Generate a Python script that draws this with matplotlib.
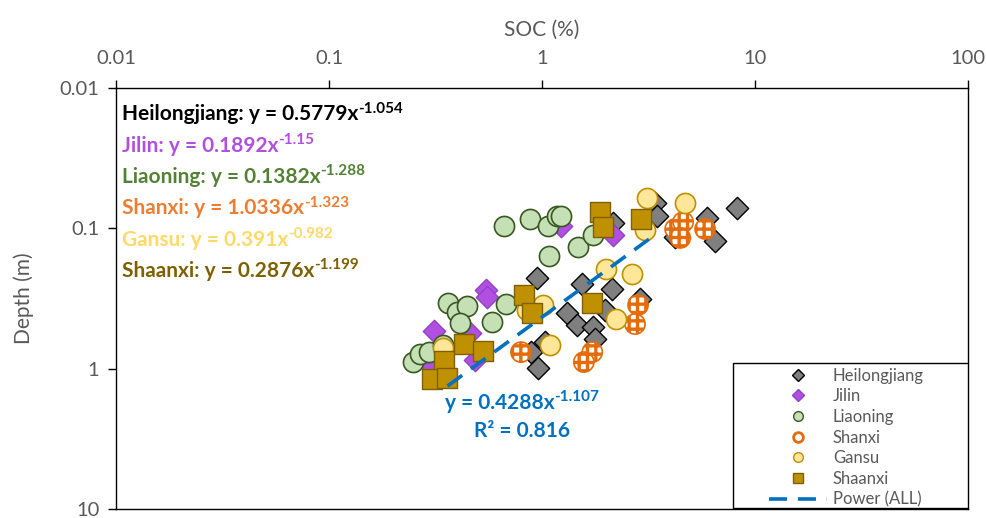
import numpy as np
import matplotlib
matplotlib.use('Agg')
import matplotlib.pyplot as plt
from matplotlib.lines import Line2D
from matplotlib.patches import Rectangle

plt.rcParams['font.family'] = ['Lato', 'DejaVu Sans']
plt.rcParams['hatch.linewidth'] = 2.4

# SOC (%) and depth (m)
heilongjiang_soc = [0.948, 1.54, 2.13, 1.31, 1.46, 1.73, 1.98, 1.77, 2.88, 1.03,
                    0.887, 0.957, 2.15, 3.40, 3.47, 4.21, 5.96, 6.49, 8.23]
heilongjiang_depth = [0.226, 0.249, 0.271, 0.402, 0.489, 0.505, 0.382, 0.615, 0.319, 0.645,
                      0.762, 0.991, 0.0916, 0.0661, 0.0817, 0.115, 0.0845, 0.123, 0.0716]

jilin_soc = [0.546, 0.552, 0.311, 0.459, 0.484, 0.298, 1.22, 2.15]
jilin_depth = [0.275, 0.309, 0.540, 0.557, 0.869, 0.927, 0.0965, 0.112]

liaoning_soc = [0.664, 0.879, 1.07, 1.18, 1.23, 1.08, 1.48, 1.73, 0.362,
                0.399, 0.445, 0.412, 0.582, 0.678, 0.248, 0.267, 0.294, 0.343]
liaoning_depth = [0.0965, 0.0859, 0.0965, 0.0817, 0.0817, 0.157, 0.136, 0.112, 0.340,
                  0.396, 0.358, 0.473, 0.466, 0.347, 0.897, 0.787, 0.762, 0.679]

shanxi_soc = [4.21, 4.59, 4.45, 5.82, 2.82, 2.73, 1.72, 1.57, 0.796]
shanxi_depth = [0.101, 0.0901, 0.117, 0.101, 0.352, 0.481, 0.762, 0.897, 0.762]

gansu_soc = [3.11, 4.69, 3.05, 2.00, 2.65, 2.22, 1.01, 0.851, 1.09, 0.343]
gansu_depth = [0.0608, 0.0661, 0.103, 0.195, 0.212, 0.443, 0.352, 0.382, 0.679, 0.713]

shaanxi_soc = [1.87, 1.93, 2.92, 0.822, 0.897, 1.72, 0.431, 0.528, 0.347, 0.305, 0.358]
shaanxi_depth = [0.0766, 0.0980, 0.0859, 0.298, 0.402, 0.340, 0.668, 0.750, 0.883, 1.19, 1.17]

# power fit over all points: depth = a * SOC^b
fit_a, fit_b = 0.4288, -1.107
fit_r2 = 0.816
fit_range = [0.36, 3.25]

equations = [
    ('Heilongjiang', '0.5779', '-1.054', 'black'),
    ('Jilin', '0.1892', '-1.15', '#B04FE0'),
    ('Liaoning', '0.1382', '-1.288', '#548235'),
    ('Shanxi', '1.0336', '-1.323', '#ED7D31'),
    ('Gansu', '0.391', '-0.982', '#FFD966'),
    ('Shaanxi', '0.2876', '-1.199', '#7F6000'),
]

fig = plt.figure(figsize=(9.87, 5.18), dpi=100)
ax = fig.add_axes([0.1175, 0.0174, 0.8635, 0.8126])

ax.scatter(heilongjiang_soc, heilongjiang_depth, marker='D', s=130,
           facecolor='#7F7F7F', edgecolor='black', linewidth=1.0, zorder=3)
ax.scatter(jilin_soc, jilin_depth, marker='D', s=130,
           facecolor='#B04FE0', edgecolor='#9440C8', linewidth=1.0, zorder=3)
ax.scatter(liaoning_soc, liaoning_depth, marker='o', s=210,
           facecolor='#C5E0B4', edgecolor='#385723', linewidth=1.2, zorder=3)
ax.scatter(shanxi_soc, shanxi_depth, marker='o', s=210, facecolor='white',
           edgecolor='#E46C0A', hatch='++', linewidth=1.2, zorder=3)
ax.scatter(gansu_soc, gansu_depth, marker='o', s=210,
           facecolor='#FFE699', edgecolor='#BF9000', linewidth=1.2, zorder=3)
ax.scatter(shaanxi_soc, shaanxi_depth, marker='s', s=200,
           facecolor='#BF9000', edgecolor='#7F6000', linewidth=1.0, zorder=3)

xf = np.logspace(np.log10(fit_range[0]), np.log10(fit_range[1]), 50)
ax.plot(xf, fit_a * xf ** fit_b, color='#0070C0', linestyle=(0, (5, 3)),
        linewidth=2.6, zorder=4)

ax.set_xscale('log')
ax.set_yscale('log')
ax.set_xlim(0.01, 100)
ax.set_ylim(10, 0.01)
ax.xaxis.tick_top()
ax.xaxis.set_label_position('top')
ax.set_xticks([0.01, 0.1, 1, 10, 100])
ax.set_xticklabels(['0.01', '0.1', '1', '10', '100'])
ax.set_yticks([0.01, 0.1, 1, 10])
ax.set_yticklabels(['0.01', '0.1', '1', '10'], va='center_baseline')
ax.minorticks_off()
ax.tick_params(axis='both', direction='out', length=6, width=1,
               labelsize=14.5, labelcolor='#595959', pad=6)
ax.tick_params(axis='x', pad=9)
for sp in ax.spines.values():
    sp.set_linewidth(1.0)
    sp.set_color('black')

ax.set_xlabel('SOC (%)', fontsize=15, color='#595959', labelpad=10)
ax.set_ylabel('Depth (m)', fontsize=15, color='#595959', labelpad=18)


def eq_text(x, y, main, sup, color, ha='left'):
    t = ax.text(x, y, main, transform=ax.transAxes, fontsize=15,
                fontweight='bold', color=color, ha=ha, va='center')
    ax.annotate(sup, xy=(1.0, 0.78), xycoords=t, fontsize=11,
                fontweight='bold', color=color, ha='left', va='center')
    return t


y0 = 0.938
for i, (name, a, b, col) in enumerate(equations):
    eq_text(0.007, y0 - i * 0.0745, name + ': y = ' + a + 'x', b, col)

eq_text(0.386, 0.252, 'y = ' + str(fit_a) + 'x', str(fit_b), '#0070C0')
ax.text(0.476, 0.185, 'R² = ' + str(fit_r2), transform=ax.transAxes, fontsize=15,
        fontweight='bold', color='#0070C0', ha='center', va='center')

handles = [
    Line2D([], [], ls='none', marker='D', ms=6, mfc='#7F7F7F', mec='black'),
    Line2D([], [], ls='none', marker='D', ms=6, mfc='#B04FE0', mec='#9440C8'),
    Line2D([], [], ls='none', marker='o', ms=7, mfc='#C5E0B4', mec='#385723'),
    Line2D([], [], ls='none', marker='o', ms=7, mfc='white', mec='#E46C0A', mew=2),
    Line2D([], [], ls='none', marker='o', ms=7, mfc='#FFE699', mec='#BF9000'),
    Line2D([], [], ls='none', marker='s', ms=7, mfc='#BF9000', mec='#7F6000'),
    Line2D([], [], color='#0070C0', ls=(0, (5, 3)), lw=2.6),
]
labels = ['Heilongjiang', 'Jilin', 'Liaoning', 'Shanxi', 'Gansu', 'Shaanxi', 'Power (ALL)']

# Excel-style legend box with empty space at its left side
ax.add_patch(Rectangle((0.724, 0.002), 0.276, 0.345, transform=ax.transAxes,
                       facecolor='white', edgecolor='black', linewidth=1.0, zorder=5))
leg = ax.legend(handles, labels, loc='lower left', bbox_to_anchor=(0.762, -0.005),
                borderaxespad=0, fontsize=12, frameon=False,
                handlelength=3.5, labelspacing=0.28, handletextpad=0.35,
                borderpad=0.2)
leg.set_zorder(6)
for t in leg.get_texts():
    t.set_color('#595959')

fig.savefig('out.png', dpi=100)
